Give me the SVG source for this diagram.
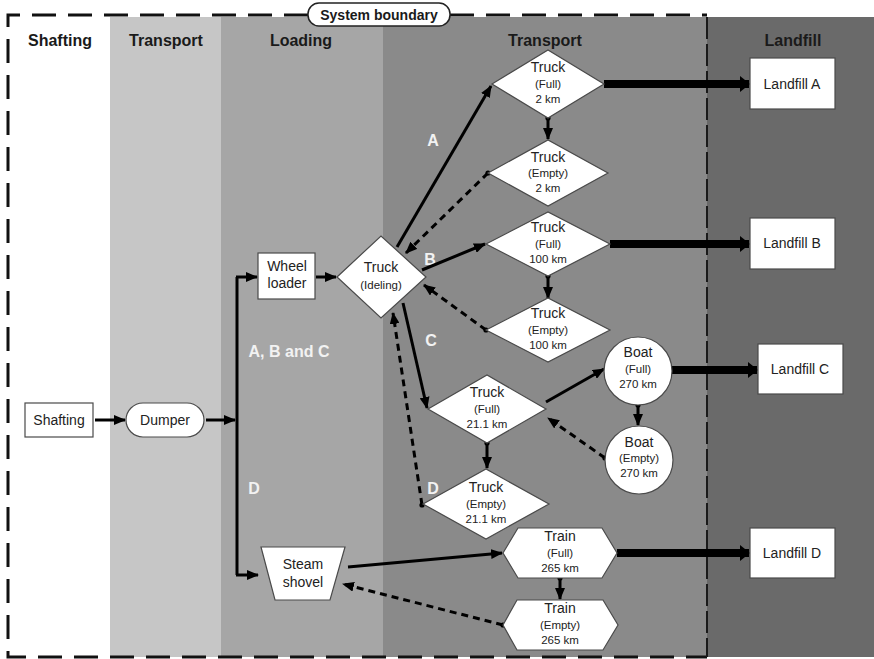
<svg xmlns="http://www.w3.org/2000/svg" width="874" height="659" viewBox="0 0 874 659">
  <style>
    .hdr { font-family: "Liberation Sans", Arial, sans-serif; font-weight: bold; font-size: 16px; fill: #1a1a1a; text-anchor: middle; }
    .lbl { font-family: "Liberation Sans", Arial, sans-serif; font-size: 14px; fill: #222; text-anchor: middle; }
    .sub { font-family: "Liberation Sans", Arial, sans-serif; font-size: 11.5px; fill: #222; text-anchor: middle; }
    .tag { font-family: "Liberation Sans", Arial, sans-serif; font-weight: bold; font-size: 16px; fill: #f2f2f2; text-anchor: middle; }
    .node { fill: #fff; stroke: #4a4a4a; stroke-width: 1.2; }
    .flow { fill: none; stroke: #000; stroke-width: 3; marker-end: url(#ah); }
    .ret { fill: none; stroke: #000; stroke-width: 3; stroke-dasharray: 7 5; marker-start: url(#dot); marker-end: url(#ah); }
    .down { fill: none; stroke: #000; stroke-width: 3; marker-start: url(#dot); marker-end: url(#ah); }
    .haul { fill: none; stroke: #000; stroke-width: 8; marker-end: url(#ahBig); }
  </style>
  <defs>
    <marker id="ah" viewBox="0 0 12 10" refX="11" refY="5" markerWidth="12" markerHeight="10" markerUnits="userSpaceOnUse" orient="auto">
      <path d="M0,0 L12,5 L0,10 z" fill="#000"/>
    </marker>
    <marker id="ahBig" viewBox="0 0 10 16" refX="9" refY="8" markerWidth="10" markerHeight="16" markerUnits="userSpaceOnUse" orient="auto">
      <path d="M0,0 L10,8 L0,16 z" fill="#000"/>
    </marker>
    <marker id="dot" viewBox="0 0 6 6" refX="3" refY="3" markerWidth="6" markerHeight="6" markerUnits="userSpaceOnUse">
      <circle cx="3" cy="3" r="2.6" fill="#000"/>
    </marker>
  </defs>

  <!-- stage bands -->
  <rect x="0" y="0" width="874" height="659" fill="#fff"/>
  <rect x="110" y="17" width="111" height="640" fill="#c6c6c6"/>
  <rect x="221" y="17" width="162" height="640" fill="#a6a6a6"/>
  <rect x="383" y="17" width="324" height="640" fill="#8a8a8a"/>
  <rect x="707" y="17" width="167" height="640" fill="#6a6a6a"/>

  <!-- system boundary -->
  <g id="boundary">
    <path d="M308,15 H8 V657 H707" fill="none" stroke="#111" stroke-width="3" stroke-dasharray="24 12"/>
    <path d="M450,15 H707" fill="none" stroke="#111" stroke-width="3" stroke-dasharray="24 12"/>
    <path d="M707,17 V657" fill="none" stroke="#1a1a1a" stroke-width="2" stroke-dasharray="22 5"/>
    <rect x="308" y="3" width="142" height="23" rx="11" fill="#fff" stroke="#222" stroke-width="1.5"/>
    <text class="hdr" x="379" y="20" style="font-size:14px">System boundary</text>
  </g>

  <!-- stage headers -->
  <g id="headers">
    <text class="hdr" x="60" y="46">Shafting</text>
    <text class="hdr" x="166" y="46">Transport</text>
    <text class="hdr" x="301" y="46">Loading</text>
    <text class="hdr" x="545" y="46">Transport</text>
    <text class="hdr" x="793" y="46">Landfill</text>
  </g>

  <!-- route labels -->
  <g id="route-labels">
    <text class="tag" x="289" y="357">A, B and C</text>
    <text class="tag" x="254" y="494">D</text>
    <text class="tag" x="433" y="146">A</text>
    <text class="tag" x="430" y="265">B</text>
    <text class="tag" x="431" y="346">C</text>
    <text class="tag" x="433" y="494">D</text>
  </g>

  <!-- connectors -->
  <g id="connectors">
    <path class="flow" d="M95,420 H125"/>
    <path class="flow" d="M206,420 H235"/>
    <path d="M237,277 V575" fill="none" stroke="#000" stroke-width="3"/>
    <path class="flow" d="M236,277 H257"/>
    <path class="flow" d="M236,575 H258"/>
    <path class="flow" d="M316,277 H336"/>
    <path class="flow" d="M397,247 L491,86"/>
    <path class="ret" d="M488,173 L406,253"/>
    <path class="flow" d="M422,270 L485,244"/>
    <path class="ret" d="M486,330 L424,285"/>
    <path class="flow" d="M403,303 L427,408"/>
    <path class="ret" d="M422,505 L393,313"/>
    <path class="down" d="M548,118 V139"/>
    <path class="down" d="M548,276 V298"/>
    <path class="down" d="M487,443 V468"/>
    <path class="flow" d="M546,402 L604,369"/>
    <path class="ret" d="M605,458 L548,418"/>
    <path class="down" d="M638,405 V425"/>
    <path class="flow" d="M348,567 L502,553"/>
    <path class="ret" d="M503,625 L343,584"/>
    <path class="down" d="M560,578 V599"/>
    <path class="haul" d="M604,84 H749"/>
    <path class="haul" d="M610,244 H749"/>
    <path class="haul" d="M672,370 H757"/>
    <path class="haul" d="M617,553 H749"/>
  </g>

  <!-- nodes -->
  <g id="shafting">
    <rect class="node" x="25" y="403" width="68" height="34"/>
    <text class="lbl" x="59" y="425">Shafting</text>
  </g>
  <g id="dumper">
    <rect class="node" x="126" y="403" width="78" height="34" rx="17"/>
    <text class="lbl" x="165" y="425">Dumper</text>
  </g>
  <g id="wheel-loader">
    <rect class="node" x="258" y="253" width="57" height="46"/>
    <text class="lbl" x="287" y="271">Wheel</text>
    <text class="lbl" x="287" y="288">loader</text>
  </g>
  <g id="steam-shovel">
    <polygon class="node" points="261,547 345,547 330,600 275,600"/>
    <text class="lbl" x="303" y="569">Steam</text>
    <text class="lbl" x="303" y="587">shovel</text>
  </g>
  <g id="truck-idling">
    <polygon class="node" points="337,277 381,236 426,277 381,318"/>
    <text class="lbl" x="381" y="272">Truck</text>
    <text class="sub" x="381" y="289">(Ideling)</text>
  </g>
  <g id="truck-full-2">
    <polygon class="node" points="492,84 548,50 604,84 548,118"/>
    <text class="lbl" x="548" y="72">Truck</text>
    <text class="sub" x="548" y="88">(Full)</text>
    <text class="sub" x="548" y="103">2 km</text>
  </g>
  <g id="truck-empty-2">
    <polygon class="node" points="488,173 548,140 608,173 548,206"/>
    <text class="lbl" x="548" y="162">Truck</text>
    <text class="sub" x="548" y="177">(Empty)</text>
    <text class="sub" x="548" y="192">2 km</text>
  </g>
  <g id="truck-full-100">
    <polygon class="node" points="486,244 548,212 610,244 548,276"/>
    <text class="lbl" x="548" y="232">Truck</text>
    <text class="sub" x="548" y="248">(Full)</text>
    <text class="sub" x="548" y="263">100 km</text>
  </g>
  <g id="truck-empty-100">
    <polygon class="node" points="486,330 548,298 610,330 548,362"/>
    <text class="lbl" x="548" y="318">Truck</text>
    <text class="sub" x="548" y="334">(Empty)</text>
    <text class="sub" x="548" y="349">100 km</text>
  </g>
  <g id="truck-full-21">
    <polygon class="node" points="428,409 487,375 546,409 487,443"/>
    <text class="lbl" x="487" y="397">Truck</text>
    <text class="sub" x="487" y="413">(Full)</text>
    <text class="sub" x="487" y="428">21.1 km</text>
  </g>
  <g id="truck-empty-21">
    <polygon class="node" points="423,504 486,469 549,504 486,539"/>
    <text class="lbl" x="486" y="492">Truck</text>
    <text class="sub" x="486" y="508">(Empty)</text>
    <text class="sub" x="486" y="523">21.1 km</text>
  </g>
  <g id="boat-full">
    <circle class="node" cx="638" cy="371" r="34"/>
    <text class="lbl" x="638" y="357">Boat</text>
    <text class="sub" x="638" y="373">(Full)</text>
    <text class="sub" x="638" y="388">270 km</text>
  </g>
  <g id="boat-empty">
    <circle class="node" cx="639" cy="460" r="34"/>
    <text class="lbl" x="639" y="447">Boat</text>
    <text class="sub" x="639" y="462">(Empty)</text>
    <text class="sub" x="639" y="477">270 km</text>
  </g>
  <g id="train-full">
    <polygon class="node" points="503,553 518,528 602,528 617,553 602,578 518,578"/>
    <text class="lbl" x="560" y="541">Train</text>
    <text class="sub" x="560" y="557">(Full)</text>
    <text class="sub" x="560" y="572">265 km</text>
  </g>
  <g id="train-empty">
    <polygon class="node" points="503,625 517,600 603,600 618,625 603,650 517,650"/>
    <text class="lbl" x="560" y="613">Train</text>
    <text class="sub" x="560" y="629">(Empty)</text>
    <text class="sub" x="560" y="644">265 km</text>
  </g>
  <g id="landfill-a">
    <rect class="node" x="750" y="58" width="85" height="51"/>
    <text class="lbl" x="792" y="89">Landfill A</text>
  </g>
  <g id="landfill-b">
    <rect class="node" x="750" y="218" width="85" height="51"/>
    <text class="lbl" x="792" y="248">Landfill B</text>
  </g>
  <g id="landfill-c">
    <rect class="node" x="758" y="344" width="85" height="50"/>
    <text class="lbl" x="800" y="374">Landfill C</text>
  </g>
  <g id="landfill-d">
    <rect class="node" x="750" y="528" width="85" height="50"/>
    <text class="lbl" x="792" y="558">Landfill D</text>
  </g>
</svg>
